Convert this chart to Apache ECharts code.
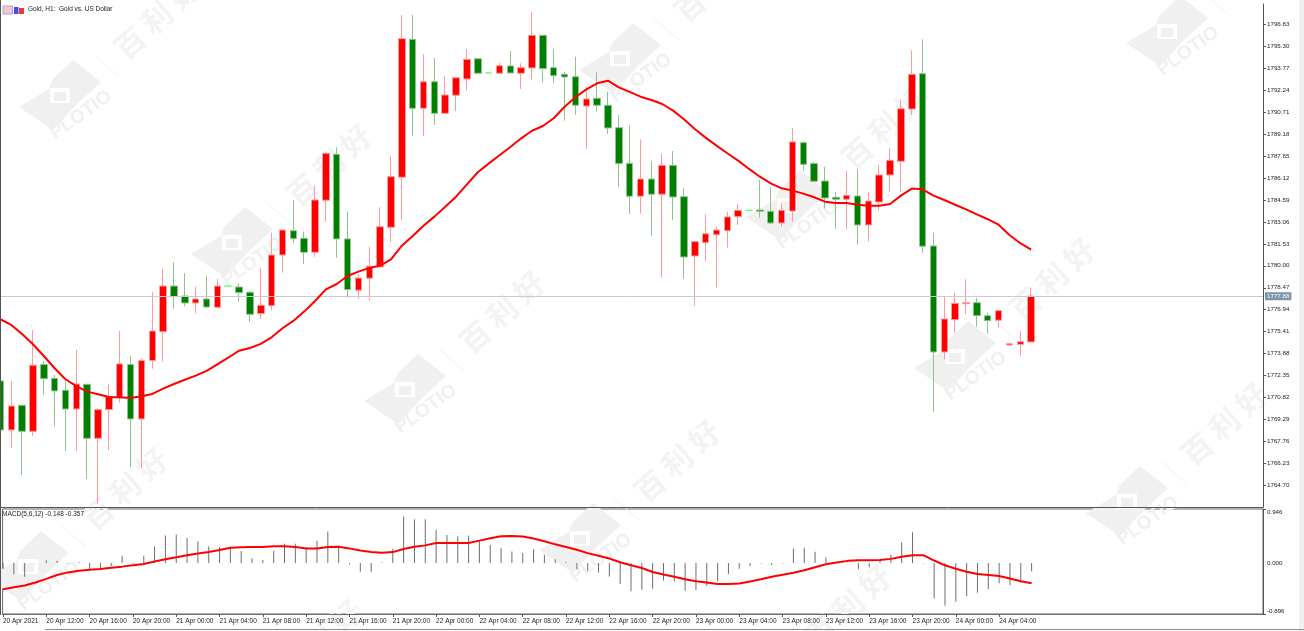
<!DOCTYPE html>
<html><head><meta charset="utf-8">
<style>html,body{margin:0;padding:0;background:#fff}#c{width:1304px;height:631px}</style>
<script src="https://cdn.jsdelivr.net/npm/echarts@6/dist/echarts.min.js"></script>
</head><body><div id="c"></div>
<script>
const symbolTitle = 'Gold, H1:  Gold vs. US Dollar';
const macdTitle = 'MACD(5,6,12) -0.148 -0.357';
const lastPrice = 1777.88;
const timeLabels = ['20 Apr 2021','20 Apr 12:00','20 Apr 16:00','20 Apr 20:00','21 Apr 00:00','21 Apr 04:00','21 Apr 08:00','21 Apr 12:00','21 Apr 16:00','21 Apr 20:00','22 Apr 00:00','22 Apr 04:00','22 Apr 08:00','22 Apr 12:00','22 Apr 16:00','22 Apr 20:00','23 Apr 00:00','23 Apr 04:00','23 Apr 08:00','23 Apr 12:00','23 Apr 16:00','23 Apr 20:00','24 Apr 00:00','24 Apr 04:00'];
const priceTicks = [1796.83,1795.30,1793.77,1792.24,1790.71,1789.18,1787.65,1786.12,1784.59,1783.06,1781.53,1780.00,1778.47,1776.94,1775.41,1773.88,1772.35,1770.82,1769.29,1767.76,1766.23,1764.70];
const macdTicks = [-0.896,0,0.946];
const opens = [1771.98,1768.57,1770.29,1768.48,1773.12,1772.17,1771.34,1770.03,1771.75,1767.99,1769.99,1770.80,1773.12,1769.34,1773.40,1775.41,1778.59,1777.90,1777.41,1777.69,1777.11,1778.59,1778.52,1778.16,1776.67,1777.22,1780.75,1782.44,1781.91,1780.94,1784.56,1787.76,1781.87,1778.30,1779.13,1779.92,1782.68,1786.16,1795.76,1790.96,1792.81,1790.61,1791.87,1793.00,1794.41,1793.42,1793.40,1793.91,1793.40,1793.77,1796.04,1793.79,1793.33,1793.16,1791.12,1791.66,1791.17,1789.61,1787.13,1784.84,1786.04,1784.98,1786.99,1784.81,1780.68,1781.61,1782.16,1782.44,1783.42,1783.86,1783.88,1783.79,1782.98,1783.81,1788.57,1787.11,1785.90,1784.77,1784.63,1784.86,1782.84,1784.44,1786.32,1787.27,1790.91,1793.37,1781.38,1774.00,1776.25,1777.36,1777.43,1776.53,1776.21,1774.49,1774.53,1774.70];
const closes = [1768.57,1770.24,1768.48,1773.08,1772.14,1771.29,1770.03,1771.77,1767.99,1769.99,1770.89,1773.17,1769.34,1773.40,1775.46,1778.59,1777.85,1777.41,1777.69,1777.13,1778.59,1778.59,1778.13,1776.62,1777.25,1780.75,1782.49,1781.89,1780.94,1784.58,1787.83,1781.87,1778.34,1779.15,1779.97,1782.72,1786.20,1795.81,1790.96,1792.81,1790.61,1791.89,1793.09,1794.37,1793.40,1793.42,1793.93,1793.42,1793.79,1796.04,1793.72,1793.23,1793.14,1791.17,1791.61,1791.17,1789.59,1787.11,1784.84,1786.04,1784.98,1786.99,1784.79,1780.61,1781.68,1782.23,1782.49,1783.40,1783.86,1783.86,1783.79,1782.98,1783.86,1788.62,1787.06,1785.88,1784.72,1784.63,1784.91,1782.84,1784.51,1786.32,1787.34,1790.93,1793.33,1781.36,1774.00,1776.30,1777.39,1777.43,1776.53,1776.18,1776.88,1774.58,1774.72,1777.88];
const lows = [1768.57,1767.32,1765.44,1768.15,1771.03,1768.80,1767.11,1767.11,1765.16,1763.42,1767.18,1770.47,1765.98,1765.91,1772.84,1773.33,1777.01,1777.18,1776.69,1777.08,1777.04,1778.59,1777.50,1776.09,1776.30,1776.92,1779.52,1781.61,1780.13,1780.63,1783.07,1780.56,1777.78,1777.71,1777.57,1779.92,1781.66,1783.19,1789.06,1789.01,1789.80,1790.61,1790.77,1792.19,1793.40,1793.42,1793.40,1793.40,1792.31,1792.91,1792.77,1792.74,1790.10,1790.50,1788.13,1790.73,1789.17,1785.51,1783.61,1783.65,1782.07,1779.17,1783.19,1779.10,1777.22,1780.29,1778.50,1781.26,1782.84,1783.86,1783.35,1782.89,1782.72,1783.07,1786.62,1785.85,1784.00,1782.56,1782.51,1781.47,1781.68,1783.86,1785.16,1785.16,1790.50,1780.91,1769.82,1773.49,1775.34,1776.65,1775.76,1775.27,1775.69,1774.45,1773.72,1774.70];
const highs = [1771.98,1771.98,1770.31,1775.53,1773.37,1772.40,1771.93,1774.14,1771.77,1770.12,1771.79,1775.46,1773.70,1773.56,1778.16,1779.78,1780.24,1779.48,1778.55,1779.31,1779.10,1778.59,1778.78,1778.27,1779.87,1782.30,1782.51,1784.58,1782.37,1785.58,1787.92,1788.25,1783.77,1779.43,1781.33,1784.07,1787.66,1797.46,1797.46,1794.72,1794.46,1793.19,1793.14,1795.09,1794.44,1793.42,1794.14,1794.95,1794.09,1797.69,1796.04,1795.07,1793.49,1794.55,1792.47,1793.47,1792.12,1790.50,1789.75,1788.80,1787.27,1787.80,1787.99,1785.42,1781.73,1783.58,1782.72,1783.77,1784.30,1783.86,1785.97,1785.46,1784.35,1789.57,1788.69,1787.25,1786.90,1785.12,1786.60,1786.72,1785.12,1787.04,1788.18,1791.59,1795.00,1795.76,1782.30,1777.83,1778.11,1779.06,1777.76,1776.74,1776.90,1774.63,1775.48,1778.50];
const movingAverage = [1776.28,1775.88,1775.25,1774.54,1773.72,1772.87,1772.10,1771.63,1771.24,1771.06,1770.87,1770.85,1770.80,1770.92,1771.08,1771.45,1771.77,1772.07,1772.35,1772.68,1773.14,1773.60,1774.09,1774.28,1774.56,1775.02,1775.65,1776.16,1776.81,1777.55,1778.36,1778.73,1779.29,1779.59,1779.85,1780.01,1780.45,1781.40,1782.07,1782.79,1783.42,1784.11,1784.81,1785.67,1786.51,1787.11,1787.69,1788.27,1788.87,1789.40,1789.73,1790.27,1791.07,1791.73,1792.28,1792.70,1792.88,1792.42,1792.10,1791.77,1791.54,1791.26,1790.80,1790.20,1789.52,1788.92,1788.36,1787.83,1787.32,1786.74,1786.20,1785.74,1785.39,1785.23,1785.02,1784.77,1784.46,1784.37,1784.37,1784.25,1784.18,1784.18,1784.30,1784.88,1785.37,1785.32,1784.88,1784.58,1784.25,1783.93,1783.58,1783.24,1782.86,1782.14,1781.57,1781.12];
const macdHist = [-0.10,-0.20,-0.243,-0.006,0.047,0.04,-0.01,0.018,-0.119,-0.107,-0.053,0.125,-0.018,0.125,0.29,0.48,0.498,0.439,0.38,0.29,0.279,0.279,0.208,0.083,0.053,0.208,0.338,0.338,0.273,0.391,0.552,0.302,-0.024,-0.154,-0.154,0.012,0.249,0.813,0.765,0.765,0.581,0.492,0.469,0.48,0.391,0.314,0.267,0.202,0.172,0.243,0.142,0.065,0.018,-0.113,-0.142,-0.166,-0.237,-0.368,-0.498,-0.469,-0.451,-0.308,-0.32,-0.486,-0.474,-0.403,-0.32,-0.196,-0.101,-0.053,-0.012,-0.036,-0.012,0.255,0.267,0.196,0.095,0.006,0.006,-0.113,-0.077,0.047,0.142,0.362,0.54,-0.012,-0.623,-0.753,-0.682,-0.581,-0.522,-0.463,-0.356,-0.391,-0.344,-0.148];
const macdSignal = [-0.463,-0.427,-0.397,-0.344,-0.279,-0.213,-0.166,-0.136,-0.119,-0.107,-0.083,-0.065,-0.042,-0.018,0.024,0.065,0.101,0.136,0.166,0.19,0.225,0.267,0.273,0.279,0.279,0.291,0.291,0.279,0.255,0.255,0.279,0.285,0.255,0.219,0.19,0.178,0.19,0.243,0.285,0.308,0.35,0.35,0.35,0.35,0.391,0.433,0.468,0.474,0.463,0.427,0.38,0.326,0.279,0.231,0.172,0.125,0.077,0.012,-0.042,-0.089,-0.16,-0.202,-0.243,-0.285,-0.32,-0.344,-0.368,-0.368,-0.362,-0.326,-0.285,-0.243,-0.208,-0.172,-0.13,-0.077,-0.024,0.006,0.036,0.047,0.047,0.053,0.071,0.107,0.136,0.136,0.042,-0.042,-0.101,-0.154,-0.196,-0.213,-0.231,-0.273,-0.32,-0.357];

const barIndex = opens.map((_, i) => i);
const tickIndex = timeLabels.map((_, i) => i * 4);
const candleData = barIndex.map(i => [i, opens[i], closes[i], lows[i], highs[i]]);
const xMin = -0.037, xMax = 116.37;
const UP = '#ff0000', DOWN = '#007f00', WM = '#f0f0f0';

function watermark(cx, cy) {
  const rot = 0.72;
  const chars = [['百',70,-54],['利',97,-79],['好',124,-104]];
  return { type:'group', x:cx, y:cy, silent:true, z:-1, children:[
    { type:'polygon', shape:{points:[[-41,10],[-11,-8],[-8,-17],[13,-37],[41,-15],[18,6],[-7,33]]}, style:{fill:WM} },
    { type:'rect', shape:{x:-10,y:-9,width:20,height:15}, style:{fill:'#fff'} },
    { type:'rect', shape:{x:-6,y:-5,width:12,height:9}, style:{fill:WM} },
    { type:'line', shape:{x1:34,y1:-42,x2:59,y2:-20}, style:{stroke:WM,lineWidth:1} },
    { type:'text', x:21, y:18, rotation:0.62, style:{text:'PLOTIO',fill:WM,font:'bold 19px "Liberation Sans"',align:'center',verticalAlign:'middle'} }
  ].concat(chars.map(c => ({ type:'text', x:c[1], y:c[2], rotation:rot, style:{text:c[0],fill:'#f3f3f3',font:'bold 30px "Noto Sans CJK SC"',align:'center',verticalAlign:'middle'} }))) };
}
const logoSpots = [[60,97],[232,244],[405,391],[580,540],[751,685],[620,60],[787,207],[955,358],[1127,503],[1167,33],[28,568],[222,720]];

const graphics = logoSpots.map(p => watermark(p[0], p[1])).concat([
  { type:'rect', z:100, silent:true, shape:{x:0,y:0,width:1,height:615}, style:{fill:'#555'} },
  { type:'rect', z:100, silent:true, shape:{x:1299,y:0,width:5,height:631}, style:{fill:'#f0f0f0'} },
  { type:'rect', z:100, silent:true, shape:{x:45,y:629,width:1259,height:1}, style:{fill:'#8a8a8a'} },
  { type:'rect', z:100, silent:true, shape:{x:3,y:6,width:9.5,height:8}, style:{fill:'#f3c6d6',stroke:'#9aa6d8',lineWidth:1} },
  { type:'rect', z:100, silent:true, shape:{x:14,y:7,width:4.5,height:7}, style:{fill:'#4a4af0'} },
  { type:'rect', z:100, silent:true, shape:{x:19,y:8,width:5,height:6}, style:{fill:'#e03a3a'} }
]);

const font = '"Liberation Sans"';
const chart = echarts.init(document.getElementById('c'), null, {renderer:'canvas'});
chart.setOption({
  animation:false,
  backgroundColor:'#fff',
  title:[
    {text:symbolTitle,left:28,top:6,padding:0,textStyle:{fontFamily:font,fontSize:6.5,fontWeight:'normal',color:'#222'}},
    {text:macdTitle,left:2,top:511,padding:0,textStyle:{fontFamily:font,fontSize:6.5,fontWeight:'normal',color:'#222'}}
  ],
  graphic:graphics,
  grid:[
    {left:0,width:1263,top:4,height:503,show:false},
    {left:0,width:1263,top:509,height:105,show:true,backgroundColor:'transparent',borderColor:'#6a6a6a',borderWidth:1}
  ],
  xAxis:[
    {type:'value',gridIndex:0,min:xMin,max:xMax,splitLine:{show:false},axisLine:{show:true,onZero:false,lineStyle:{color:'#555',width:1}},axisTick:{show:false},axisLabel:{show:false}},
    {type:'value',gridIndex:1,min:xMin,max:xMax,splitLine:{show:false},axisLine:{show:true,onZero:false,lineStyle:{color:'#6a6a6a',width:1}},
      axisTick:{show:true,length:3,customValues:tickIndex,lineStyle:{color:'#555'}},
      axisLabel:{show:true,customValues:tickIndex,align:'left',margin:4,showMinLabel:true,showMaxLabel:true,hideOverlap:false,fontFamily:font,fontSize:6.5,color:'#222',formatter:v=>timeLabels[Math.round(v/4)]||''}}
  ],
  yAxis:[
    {type:'value',gridIndex:0,position:'right',min:1763.21,max:1798.22,scale:true,splitLine:{show:false},
      axisLine:{show:true,onZero:false,lineStyle:{color:'#555',width:1}},
      axisTick:{show:true,length:3,customValues:priceTicks,lineStyle:{color:'#555'}},
      axisLabel:{customValues:priceTicks,margin:4,showMinLabel:true,showMaxLabel:true,hideOverlap:false,fontFamily:font,fontSize:6.2,color:'#222',formatter:v=>v.toFixed(2)}},
    {type:'value',gridIndex:1,position:'right',min:-0.896,max:0.946,splitLine:{show:false},
      axisLine:{show:true,onZero:false,lineStyle:{color:'#555',width:1}},
      axisTick:{show:true,length:3,customValues:[-0.896,0.946],lineStyle:{color:'#555'}},
      axisLabel:{customValues:macdTicks,margin:4,showMinLabel:true,showMaxLabel:true,hideOverlap:false,verticalAlignMaxLabel:'top',verticalAlignMinLabel:'bottom',fontFamily:font,fontSize:6.2,color:'#222',formatter:v=>v.toFixed(3)}}
  ],
  series:[
    {type:'candlestick',xAxisIndex:0,yAxisIndex:0,data:candleData,encode:{x:0,y:[1,2,3,4]},barWidth:7,silent:true,large:false,
      itemStyle:{color:UP,color0:DOWN,borderColor:'#ff9a9a',borderColor0:'#8cc48c',borderColorDoji:'#66ff66',borderWidth:1},
      markLine:{silent:true,symbol:'none',animation:false,precision:2,
        lineStyle:{color:'#c6cbd5',type:'solid',width:1},
        label:{position:'end',distance:2,formatter:lastPrice.toFixed(2),fontFamily:font,fontSize:6.2,color:'#fff',backgroundColor:'#7d93ab',padding:[1,2]},
        data:[{yAxis:lastPrice}]}},
    {type:'line',xAxisIndex:0,yAxisIndex:0,data:barIndex.map(i=>[i,movingAverage[i]]),showSymbol:false,silent:true,z:5,lineStyle:{color:'#ff0000',width:2}},
    {type:'bar',xAxisIndex:1,yAxisIndex:1,data:barIndex.map(i=>[i,macdHist[i]]),barWidth:1,silent:true,itemStyle:{color:'#6e6e6e'}},
    {type:'line',xAxisIndex:1,yAxisIndex:1,data:barIndex.map(i=>[i,macdSignal[i]]),showSymbol:false,silent:true,z:5,lineStyle:{color:'#ff0000',width:2}}
  ]
});
</script></body></html>
